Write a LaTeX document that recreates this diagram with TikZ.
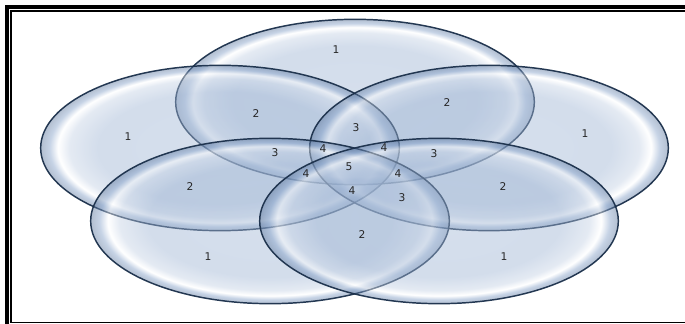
\documentclass[tikz,border=0pt]{standalone}
\usepackage{fontspec}
\setsansfont{DejaVu Sans}
\usetikzlibrary{shapes.geometric}
\definecolor{Rim}{HTML}{1A2F4A}
\definecolor{Glass}{HTML}{6A8CBC}
\definecolor{Digit}{HTML}{262626}
\pgfdeclareradialshading{glassy}{\pgfpoint{0bp}{0bp}}{%
  color(0bp)=(Glass!62!white); color(17bp)=(Glass!66!white);
  color(21bp)=(Glass!40!white); color(22.6bp)=(white);
  color(23.8bp)=(Glass!85!white); color(25bp)=(Glass!80!black);
  color(50bp)=(Glass!80!black)}
\tikzset{
  petal/.style={
    ellipse, draw=Rim, line width=1.1pt, shade, shading=glassy,
    fill opacity=0.45, draw opacity=0.95,
    minimum width=269pt, minimum height=124pt, inner sep=0pt
  },
  count/.style={font=\sffamily\fontsize{8}{9}\selectfont, text=Digit, inner sep=0pt},
  frameline/.style={draw=black, line width=3pt},
  thinline/.style={draw=black, line width=0.8pt}
}

\begin{document}
\begin{tikzpicture}[x=0.75pt,y=-0.75pt]
  \useasboundingbox (0,0) rectangle (685,324);
  % frame
  \draw[frameline] (7,324) -- (7,7) -- (685,7);
  \draw[thinline] (685,11) -- (11,11) -- (11,322.7) -- (685,322.7);
  % the five ellipses
  \node[petal] (top) at (355,102) {};
  \node[petal] (upleft) at (220,148) {};
  \node[petal] (upright) at (489,148) {};
  \node[petal] (lowleft) at (270,221) {};
  \node[petal] (lowright) at (439,221) {};
  % counts of the regions
  \foreach \p/\t [count=\i] in {
      {(336,50)}/1, {(128,137)}/1, {(585,134)}/1, {(208,257)}/1, {(504,257)}/1,
      {(256,114)}/2, {(447,103)}/2, {(190,187)}/2, {(503,187)}/2, {(362,235)}/2,
      {(356,128)}/3, {(275,153)}/3, {(434,154)}/3, {(402,198)}/3,
      {(323,149)}/4, {(384,148)}/4, {(306,174)}/4, {(398,174)}/4, {(352,191)}/4,
      {(349,167)}/5}
    \node[count] (n\i) at \p {\t};
\end{tikzpicture}
\end{document}
